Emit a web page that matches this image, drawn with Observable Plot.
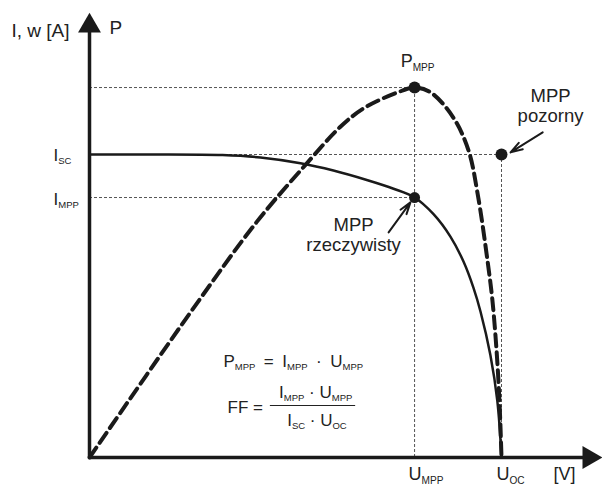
<!DOCTYPE html>
<html>
<head>
<meta charset="utf-8">
<script src="https://cdn.jsdelivr.net/npm/d3@7"></script>
<script src="https://cdn.jsdelivr.net/npm/@observablehq/plot@0.6"></script>
<style>
  html, body { margin: 0; padding: 0; background: #fff; }
  #chart { width: 602px; height: 486px; }
</style>
</head>
<body>
<div id="chart"></div>
<script>
// I-U characteristic (normalised: U_OC = 1, I_SC = 1)
const U = [0, 0.148, 0.323, 0.415, 0.512, 0.592, 0.675, 0.738, 0.789, 0.835, 0.876, 0.908, 0.932, 0.949, 0.973, 0.990, 1.0];
const I = [1.0, 1.0, 0.998, 0.990, 0.971, 0.947, 0.915, 0.887, 0.858, 0.803, 0.729, 0.646, 0.560, 0.482, 0.338, 0.185, 0];

// P-U characteristic (drawn on the same vertical scale)
const Up = [0, 0.243, 0.405, 0.527, 0.607, 0.665, 0.748, 0.789, 0.828, 0.883, 0.920, 0.942, 0.966, 0.978, 0.988, 0.995, 1.0];
const P  = [0, 0.475, 0.776, 0.970, 1.089, 1.152, 1.205, 1.221, 1.205, 1.122, 1.013, 0.871, 0.650, 0.518, 0.353, 0.188, 0];

// characteristic points
const Umpp = 0.789, Uoc = 1.0, Isc = 1.0, Impp = 0.858, Pmpp = 1.221;

// labels
const yAxisLabel = "I, w [A]";
const pAxisLabel = "P";
const xAxisLabel = "[V]";
const realLabel = ["MPP", "rzeczywisty"];
const apparentLabel = ["MPP", "pozorny"];
const formula1 = "P_{MPP}\u2002=\u2002I_{MPP}\u2002·\u2002U_{MPP}";
const ffLeft = "FF =";
const ffNum = "I_{MPP} · U_{MPP}";
const ffDen = "I_{SC} · U_{OC}";

const ivData = U.map((u, k) => ({u, v: I[k]}));
const pvData = Up.map((u, k) => ({u, v: P[k]}));
const hGuides = [{v: Pmpp, u2: Umpp}, {v: Isc, u2: Uoc}, {v: Impp, u2: Umpp}];
const vGuides = [{u: Umpp, v2: Pmpp}, {u: Uoc, v2: Isc}];

const ink = "#1a1a1a";
const guide = {stroke: "#555", strokeWidth: 1, strokeDasharray: "3,2"};

const chart = Plot.plot({
  width: 602,
  height: 486,
  marginLeft: 89, marginRight: 2, marginTop: 0, marginBottom: 29,
  x: {domain: [0, 1], range: [89, 501], axis: null},
  y: {domain: [0, 1], range: [457, 154], axis: null},
  style: {fontFamily: "'Liberation Sans', Arial, sans-serif", background: "#fff", color: "#222"},
  marks: [
    // guide lines
    Plot.ruleY(hGuides, {y: "v", x1: 0, x2: "u2", ...guide}),
    Plot.ruleX(vGuides, {x: "u", y1: 0, y2: "v2", ...guide}),
    // curves
    Plot.line(pvData, {x: "u", y: "v", curve: "catmull-rom", stroke: ink, strokeWidth: 4, strokeDasharray: "12,6"}),
    Plot.line(ivData, {x: "u", y: "v", curve: "catmull-rom", stroke: ink, strokeWidth: 2.5}),
    // axes with arrowheads
    Plot.ruleX([0], {y1: 0, y2: 1.41, stroke: ink, strokeWidth: 3.5}),
    Plot.ruleY([0], {x1: 0, x2: 1.20, stroke: ink, strokeWidth: 3.5}),
    Plot.dot([{u: 0, v: 1.4244}], {x: "u", y: "v", symbol: "triangle", r: 8.5, fill: ink, stroke: "none"}),
    Plot.dot([{u: 1.2126, v: 0}], {x: "u", y: "v", symbol: "triangle", r: 8.5, fill: ink, stroke: "none", rotate: 90}),
    // characteristic points
    Plot.dot([{u: Umpp, v: Pmpp}], {x: "u", y: "v", r: 6, fill: ink}),
    Plot.dot([{u: Umpp, v: Impp}], {x: "u", y: "v", r: 5.5, fill: ink}),
    Plot.dot([{u: Uoc, v: Isc}], {x: "u", y: "v", r: 6, fill: ink}),
    // annotation arrows
    Plot.arrow([{x1: 0.726, y1: 0.743, x2: 0.779, y2: 0.842}], {x1: "x1", y1: "y1", x2: "x2", y2: "y2", stroke: ink, strokeWidth: 2, headLength: 11, headAngle: 35}),
    Plot.arrow([{x1: 1.100, y1: 1.073, x2: 1.022, y2: 1.007}], {x1: "x1", y1: "y1", x2: "x2", y2: "y2", stroke: ink, strokeWidth: 2, headLength: 11, headAngle: 35}),
    // axis labels
    Plot.text([yAxisLabel], {x: 0, y: 1.389, dx: -20, text: d => d, textAnchor: "end", lineAnchor: "bottom", fontSize: 19}),
    Plot.text([pAxisLabel], {x: 0, y: 1.399, dx: 20, text: d => d, textAnchor: "start", lineAnchor: "bottom", fontSize: 19}),
    Plot.text([xAxisLabel], {x: 1.126, y: 0, dy: 22, text: d => d, textAnchor: "start", lineAnchor: "bottom", fontSize: 18}),
    // value labels
    Plot.text(["P_{MPP}"], {x: Umpp, y: Pmpp, dx: 3, dy: -21, text: d => d, textAnchor: "middle", lineAnchor: "bottom", fontSize: 18}),
    Plot.text(["I_{SC}"], {x: 0, y: Isc, dx: -36, dy: 6, text: d => d, textAnchor: "start", lineAnchor: "bottom", fontSize: 17}),
    Plot.text(["I_{MPP}"], {x: 0, y: Impp, dx: -36, dy: 7, text: d => d, textAnchor: "start", lineAnchor: "bottom", fontSize: 17}),
    Plot.text(["U_{MPP}"], {x: Umpp, y: 0, dx: -6, dy: 22, text: d => d, textAnchor: "start", lineAnchor: "bottom", fontSize: 18}),
    Plot.text(["U_{OC}"], {x: Uoc, y: 0, dx: -5, dy: 22, text: d => d, textAnchor: "start", lineAnchor: "bottom", fontSize: 18}),
    // point descriptions
    Plot.text([realLabel[0]], {x: 0.641, y: 0.749, text: d => d, textAnchor: "middle", lineAnchor: "bottom", fontSize: 18.5}),
    Plot.text([realLabel[1]], {x: 0.641, y: 0.683, text: d => d, textAnchor: "middle", lineAnchor: "bottom", fontSize: 18.5}),
    Plot.text([apparentLabel[0]], {x: 1.119, y: 1.172, text: d => d, textAnchor: "middle", lineAnchor: "bottom", fontSize: 18.5}),
    Plot.text([apparentLabel[1]], {x: 1.119, y: 1.106, text: d => d, textAnchor: "middle", lineAnchor: "bottom", fontSize: 18.5}),
    // formulas
    Plot.text([formula1], {x: 0.325, y: 0.300, text: d => d, textAnchor: "start", lineAnchor: "bottom", fontSize: 17}),
    Plot.text([ffLeft], {x: 0.335, y: 0.1485, text: d => d, textAnchor: "start", lineAnchor: "bottom", fontSize: 17}),
    Plot.text([ffNum], {x: 0.549, y: 0.195, text: d => d, textAnchor: "middle", lineAnchor: "bottom", fontSize: 17}),
    Plot.ruleY([0.1716], {x1: 0.439, x2: 0.646, stroke: "#222", strokeWidth: 1.2}),
    Plot.text([ffDen], {x: 0.552, y: 0.1056, text: d => d, textAnchor: "middle", lineAnchor: "bottom", fontSize: 17})
  ]
});

document.getElementById("chart").appendChild(chart);

// turn "_{...}" into real subscript tspans
const ns = "http://www.w3.org/2000/svg";
chart.querySelectorAll("text").forEach(t => {
  const s = t.textContent;
  if (!s.includes("_{")) return;
  const fs = parseFloat(getComputedStyle(t).fontSize) || 17;
  const subSize = (fs * 0.56).toFixed(1);
  const shift = Math.round(fs * 0.2);
  const parts = s.split(/(_\{[^}]*\})/).filter(p => p.length);
  t.textContent = "";
  let shifted = false;
  for (const p of parts) {
    const ts = document.createElementNS(ns, "tspan");
    const sub = p.startsWith("_{");
    ts.textContent = sub ? p.slice(2, -1) : p;
    if (sub) {
      ts.setAttribute("font-size", subSize);
      if (!shifted) { ts.setAttribute("dy", shift); shifted = true; }
    } else if (shifted) {
      ts.setAttribute("dy", -shift); shifted = false;
    }
    t.appendChild(ts);
  }
});
</script>
</body>
</html>
